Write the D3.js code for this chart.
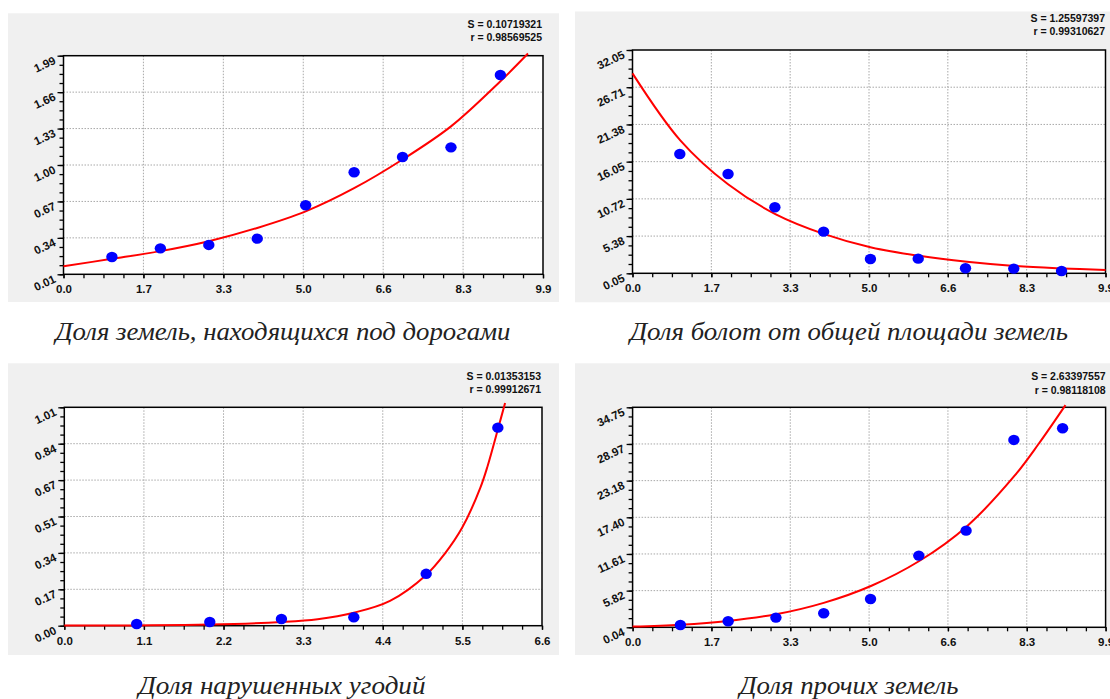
<!DOCTYPE html>
<html><head><meta charset="utf-8">
<script src="https://cdn.jsdelivr.net/npm/d3@7"></script>
<style>html,body{margin:0;padding:0;background:#fff;overflow:hidden}</style>
</head><body>
<svg id="c" width="1110" height="699"></svg>
<script>
// ---------- data ----------
const titles = [
  "Доля земель, находящихся под дорогами",
  "Доля болот от общей площади земель",
  "Доля нарушенных угодий",
  "Доля прочих земель"
];
const statS = ["S = 0.10719321", "S = 1.25597397", "S = 0.01353153", "S = 2.63397557"];
const statR = ["r = 0.98569525", "r = 0.99310627", "r = 0.99912671", "r = 0.98118108"];

const xTicksA = ["0.0", "1.7", "3.3", "5.0", "6.6", "8.3", "9.9"];
const xTicksB = ["0.0", "1.1", "2.2", "3.3", "4.4", "5.5", "6.6"];
const yTicks1 = ["0.01", "0.34", "0.67", "1.00", "1.33", "1.66", "1.99"];
const yTicks2 = ["0.05", "5.38", "10.72", "16.05", "21.38", "26.71", "32.05"];
const yTicks3 = ["0.00", "0.17", "0.34", "0.51", "0.67", "0.84", "1.01"];
const yTicks4 = ["0.04", "5.82", "11.61", "17.40", "23.18", "28.97", "34.75"];

const xDomain1 = [0, 9.9], yDomain1 = [0.01, 1.99];
const xDomain2 = [0, 9.9], yDomain2 = [0.05, 32.05];
const xDomain3 = [0, 6.6], yDomain3 = [0.00, 1.01];
const xDomain4 = [0, 9.9], yDomain4 = [0.04, 34.75];

const p1X = [1.0, 2.0, 3.0, 4.0, 5.0, 6.0, 7.0, 8.0, 9.02];
const p1Y = [0.167, 0.245, 0.276, 0.333, 0.635, 0.934, 1.072, 1.160, 1.815];
const fit1X = [0, 1, 2, 3, 4, 5, 6, 7, 8, 9, 9.59];
const fit1Y = [0.083, 0.15, 0.22, 0.31, 0.43, 0.58, 0.79, 1.05, 1.35, 1.75, 2.01];

const p2X = [0.99, 2.0, 2.98, 4.0, 4.98, 5.98, 6.97, 7.98, 8.98];
const p2Y = [17.15, 14.28, 9.51, 6.02, 2.10, 2.15, 0.77, 0.72, 0.38];
const fit2X = [0, 1, 2, 3, 4, 5, 6, 7, 8, 9, 9.9];
const fit2Y = [28.7, 19.1, 12.8, 8.5, 5.7, 3.75, 2.55, 1.7, 1.1, 0.75, 0.52];

const p3X = [1.0, 2.01, 3.0, 4.0, 5.0, 5.99];
const p3Y = [0.008, 0.017, 0.031, 0.039, 0.240, 0.916];
const fit3X = [0, 1, 2, 3, 3.5, 4, 4.5, 5, 5.25, 5.5, 5.75, 5.85, 6, 6.09];
const fit3Y = [0.0005, 0.0015, 0.005, 0.017, 0.03, 0.06, 0.115, 0.235, 0.33, 0.455, 0.64, 0.74, 0.92, 1.03];

const p4X = [1.0, 2.0, 3.0, 4.0, 4.98, 5.99, 6.98, 7.98, 9.0];
const p4Y = [0.41, 0.99, 1.57, 2.25, 4.51, 11.35, 15.29, 29.6, 31.44];
const fit4X = [0, 1, 2, 3, 4, 5, 6, 7, 8, 8.5, 9.06];
const fit4Y = [0.15, 0.45, 1.05, 2.1, 3.9, 6.6, 10.5, 16.0, 24.0, 29.0, 35.1];

// ---------- layout (positions / styles) ----------
const layout = [
  {gray:[8,13.3,551,288.7],  plot:[63.5,55.7,543,274.3],  statX:542,   statY:[28,41],     title:[283,340,455]},
  {gray:[575,11.5,540,290.8],plot:[632.5,50,1105.5,273.3],statX:1105,  statY:[21.5,35],   title:[849,340,438]},
  {gray:[8,363.3,551,291.7], plot:[64.3,407.3,542,625.7], statX:541,   statY:[379.5,393], title:[282,694,287]},
  {gray:[575,363.3,540,291.7],plot:[632.6,407.3,1105.6,627.3],statX:1105.6,statY:[380,393.5],title:[849,694,219]}
];

const panels = [
  {xd:xDomain1, yd:yDomain1, xt:xTicksA, yt:yTicks1, px:p1X, py:p1Y, fx:fit1X, fy:fit1Y},
  {xd:xDomain2, yd:yDomain2, xt:xTicksA, yt:yTicks2, px:p2X, py:p2Y, fx:fit2X, fy:fit2Y},
  {xd:xDomain3, yd:yDomain3, xt:xTicksB, yt:yTicks3, px:p3X, py:p3Y, fx:fit3X, fy:fit3Y},
  {xd:xDomain4, yd:yDomain4, xt:xTicksA, yt:yTicks4, px:p4X, py:p4Y, fx:fit4X, fy:fit4Y}
];

const svg = d3.select("#c");
const AX_FONT = "'Liberation Sans', Arial, sans-serif";

panels.forEach((p, i) => {
  const L = layout[i];
  const [l, t, r, b] = L.plot;
  const g = svg.append("g");

  g.append("rect").attr("x", L.gray[0]).attr("y", L.gray[1])
    .attr("width", L.gray[2]).attr("height", L.gray[3]).attr("fill", "#f0f0f0");
  g.append("rect").attr("x", l).attr("y", t).attr("width", r - l).attr("height", b - t)
    .attr("fill", "#fff");

  const x = d3.scaleLinear().domain(p.xd).range([l, r]);
  const y = d3.scaleLinear().domain(p.yd).range([b, t]);

  const n = p.xt.length - 1;
  const xMaj = d3.range(n + 1).map(k => p.xd[0] + k * (p.xd[1] - p.xd[0]) / n);
  const xMin = d3.range(n * 4 + 1).map(k => p.xd[0] + k * (p.xd[1] - p.xd[0]) / (n * 4));
  const m = p.yt.length - 1;
  const yMaj = d3.range(m + 1).map(k => p.yd[0] + k * (p.yd[1] - p.yd[0]) / m);
  const yMin = d3.range(m * 4 + 1).map(k => p.yd[0] + k * (p.yd[1] - p.yd[0]) / (m * 4));

  // grid
  g.append("g").selectAll("line").data(xMaj.slice(1, -1)).join("line")
    .attr("x1", d => x(d)).attr("x2", d => x(d)).attr("y1", t).attr("y2", b)
    .attr("stroke", "#a8a8a8").attr("stroke-width", 1).attr("stroke-dasharray", "1.5,1.5");
  g.append("g").selectAll("line").data(yMaj.slice(1, -1)).join("line")
    .attr("y1", d => y(d)).attr("y2", d => y(d)).attr("x1", l).attr("x2", r)
    .attr("stroke", "#a8a8a8").attr("stroke-width", 1).attr("stroke-dasharray", "1.5,1.5");

  const xMinorAx = d3.axisBottom(x).tickValues(xMin).tickSize(4).tickFormat("");
  const xMajorAx = d3.axisBottom(x).tickValues(xMaj).tickSize(4).tickFormat((d, k) => p.xt[k]);
  const yMinorAx = d3.axisLeft(y).tickValues(yMin).tickSize(4).tickFormat("");
  const yMajorAx = d3.axisLeft(y).tickValues(yMaj).tickSize(6).tickFormat((d, k) => p.yt[k]);

  const xAxes = [xMinorAx, xMajorAx].map(ax => {
    const a = g.append("g").attr("transform", `translate(0,${b})`).call(ax);
    a.select(".domain").remove();
    a.selectAll("line").attr("stroke", "#000").attr("stroke-width", 1.3);
    return a;
  });
  const yAxes = [yMinorAx, yMajorAx].map(ax => {
    const a = g.append("g").attr("transform", `translate(${l},0)`).call(ax);
    a.select(".domain").remove();
    a.selectAll("line").attr("stroke", "#000").attr("stroke-width", 1.3);
    return a;
  });

  xAxes[1].selectAll(".tick text")
    .attr("font-family", AX_FONT).attr("font-weight", "bold").attr("font-size", 11.5)
    .attr("fill", "#111").attr("y", 0).attr("dy", "19px").attr("text-anchor", "middle");

  yAxes[1].selectAll(".tick text")
    .attr("font-family", AX_FONT).attr("font-weight", "bold").attr("font-size", 11.5)
    .attr("fill", "#111").attr("dy", null).attr("x", 0).attr("y", 0)
    .attr("text-anchor", "end")
    .attr("transform", "translate(-7,7) rotate(-25)");

  // frame
  g.append("rect").attr("x", l).attr("y", t).attr("width", r - l).attr("height", b - t)
    .attr("fill", "none").attr("stroke", "#000").attr("stroke-width", 1.5);

  // fit curve
  const fit = p.fx.map((v, k) => [v, p.fy[k]]);
  const line = d3.line().x(d => x(d[0])).y(d => y(d[1])).curve(d3.curveCatmullRom.alpha(0.5));
  g.append("path").attr("d", line(fit)).attr("fill", "none")
    .attr("stroke", "#ff0000").attr("stroke-width", 2);

  // points
  const pts = p.px.map((v, k) => [v, p.py[k]]);
  g.append("g").selectAll("ellipse").data(pts).join("ellipse")
    .attr("cx", d => x(d[0])).attr("cy", d => y(d[1])).attr("rx", 5.7).attr("ry", 5.2)
    .attr("fill", "#0000ff");

  // stats
  [statS[i], statR[i]].forEach((s, k) => {
    g.append("text").attr("x", L.statX).attr("y", L.statY[k]).attr("text-anchor", "end")
      .attr("font-family", AX_FONT).attr("font-weight", "bold").attr("font-size", 10.5)
      .attr("fill", "#111").text(s);
  });

  // title
  g.append("text").attr("x", L.title[0]).attr("y", L.title[1]).attr("text-anchor", "middle")
    .attr("font-family", "'Liberation Serif', 'Times New Roman', serif")
    .attr("font-style", "italic").attr("font-size", 26).attr("fill", "#222")
    .attr("textLength", L.title[2]).attr("lengthAdjust", "spacingAndGlyphs")
    .text(titles[i]);
});
</script>
</body></html>
